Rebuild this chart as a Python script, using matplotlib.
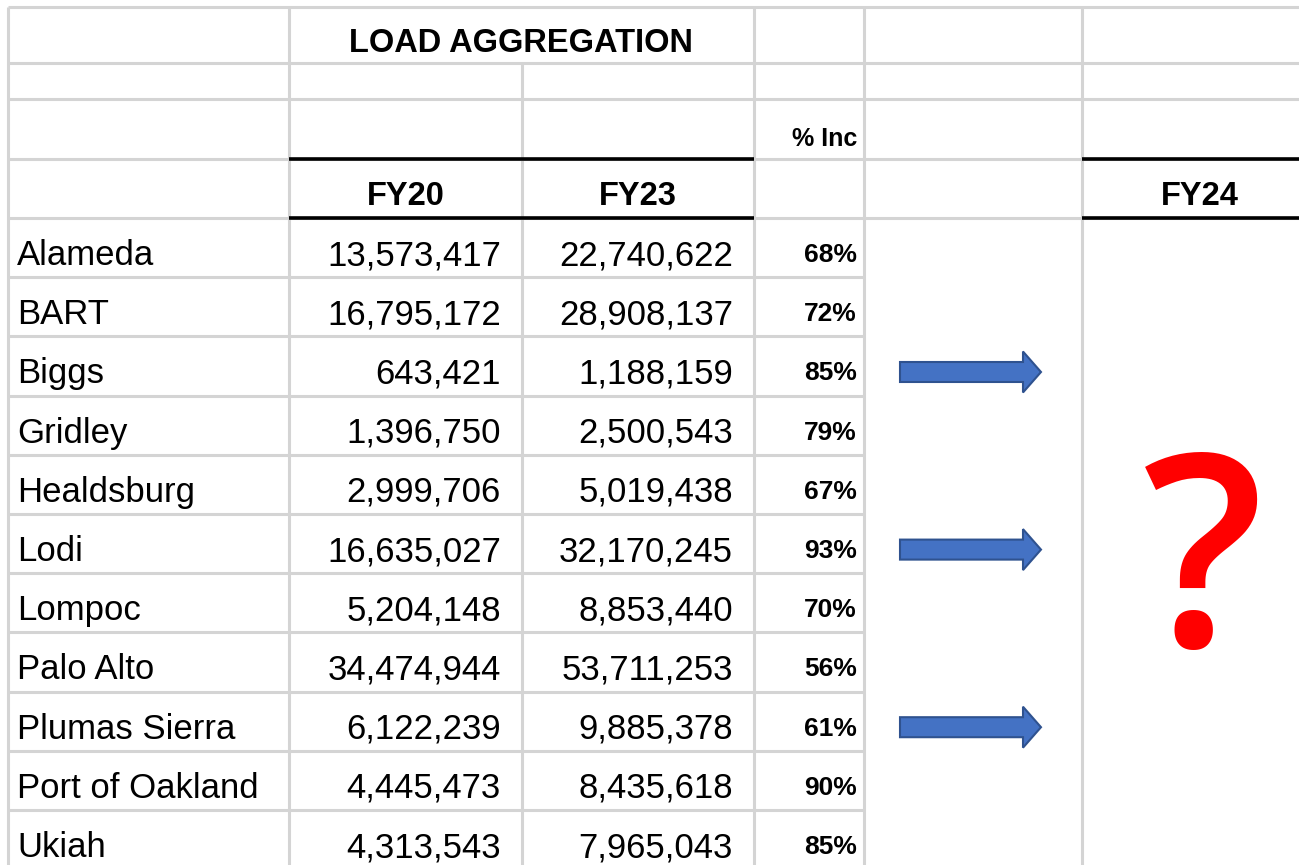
import matplotlib
matplotlib.use("Agg")
import matplotlib.pyplot as plt
import matplotlib.patches as mpatches
from matplotlib import font_manager

# table contents
names = ["Alameda", "BART", "Biggs", "Gridley", "Healdsburg", "Lodi",
         "Lompoc", "Palo Alto", "Plumas Sierra", "Port of Oakland", "Ukiah"]
fy20 = [13573417, 16795172, 643421, 1396750, 2999706, 16635027,
        5204148, 34474944, 6122239, 4445473, 4313543]
fy23 = [22740622, 28908137, 1188159, 2500543, 5019438, 32170245,
        8853440, 53711253, 9885378, 8435618, 7965043]
pct_inc = [68, 72, 85, 79, 67, 93, 70, 56, 61, 90, 85]
arrow_rows = ["Biggs", "Lodi", "Plumas Sierra"]

title = "LOAD AGGREGATION"
col_heads = ["FY20", "FY23"]
pct_head = "% Inc"
next_head = "FY24"


def pick_font(cands):
    for c in cands:
        try:
            font_manager.findfont(c, fallback_to_default=False)
            return c
        except Exception:
            pass
    return "DejaVu Sans"


FONT = pick_font(["Liberation Sans Narrow", "Liberation Sans"])

# layout (pixels)
W, H = 1299, 865
xs = [8, 289, 522, 754, 864, 1082]       # column edges
hy = [7, 63, 99, 159, 218]               # header row edges
row_h = 59.2
row_top = [hy[-1] + i * row_h for i in range(len(names) + 1)]
GRAY = "#d4d4d4"
LW = 2.2
BODY_FS = 25
HEAD_FS = 23.5

fig = plt.figure(figsize=(W / 100, H / 100), dpi=100)
ax = fig.add_axes([0, 0, 1, 1])
ax.set_xlim(0, W)
ax.set_ylim(H, 0)
ax.axis("off")

# grid lines
for x in [xs[0], xs[1], xs[3], xs[4], xs[5]]:
    ax.plot([x, x], [hy[0], H], color=GRAY, lw=LW, solid_capstyle="butt")
ax.plot([xs[2], xs[2]], [hy[1], H], color=GRAY, lw=LW, solid_capstyle="butt")
for y in hy[:3]:
    ax.plot([xs[0], W], [y, y], color=GRAY, lw=LW, solid_capstyle="butt")
for y in hy[3:]:
    ax.plot([xs[0], W], [y, y], color=GRAY, lw=LW, solid_capstyle="butt")
    ax.plot([xs[1], xs[3]], [y, y], color="black", lw=2.6, solid_capstyle="butt")
    ax.plot([xs[5], W], [y, y], color="black", lw=2.6, solid_capstyle="butt")
for y in row_top[1:]:
    ax.plot([xs[0], xs[4]], [y, y], color=GRAY, lw=LW, solid_capstyle="butt")

# header text
ax.text((xs[1] + xs[3]) / 2, 52, title, family=FONT, weight="bold",
        fontsize=HEAD_FS, ha="center", va="baseline")
ax.text(857, 146, pct_head, family=FONT, weight="bold", fontsize=18,
        ha="right", va="baseline")
ax.text((xs[1] + xs[2]) / 2, 205, col_heads[0], family=FONT, weight="bold",
        fontsize=HEAD_FS, ha="center", va="baseline")
ax.text((xs[2] + xs[3]) / 2, 205, col_heads[1], family=FONT, weight="bold",
        fontsize=HEAD_FS, ha="center", va="baseline")
ax.text(1200, 205, next_head, family=FONT, weight="bold", fontsize=HEAD_FS,
        ha="center", va="baseline")

# body rows
for i, name in enumerate(names):
    base = row_top[i] + 47
    ax.text(17, base, name, family=FONT, fontsize=BODY_FS, ha="left", va="baseline")
    ax.text(501, base, f"{fy20[i]:,}", family=FONT, fontsize=BODY_FS,
            ha="right", va="baseline")
    ax.text(733, base, f"{fy23[i]:,}", family=FONT, fontsize=BODY_FS,
            ha="right", va="baseline")
    ax.text(857, row_top[i] + 44, f"{pct_inc[i]}%", family=FONT, weight="bold",
            fontsize=19, ha="right", va="baseline")

# blue arrows
for name in arrow_rows:
    i = names.index(name)
    yc = row_top[i] + row_h / 2 + 6
    arr = mpatches.FancyArrow(900, yc, 141, 0, width=20, head_width=41,
                              head_length=18, length_includes_head=True,
                              facecolor="#4472c4", edgecolor="#2f528f", lw=1.5)
    ax.add_patch(arr)

# red question mark
ax.text(1203, 646, "?", family="Open Sans", weight="semibold", fontsize=192,
        color="#ff0000", ha="center", va="baseline")

fig.savefig("out.png", dpi=100)
